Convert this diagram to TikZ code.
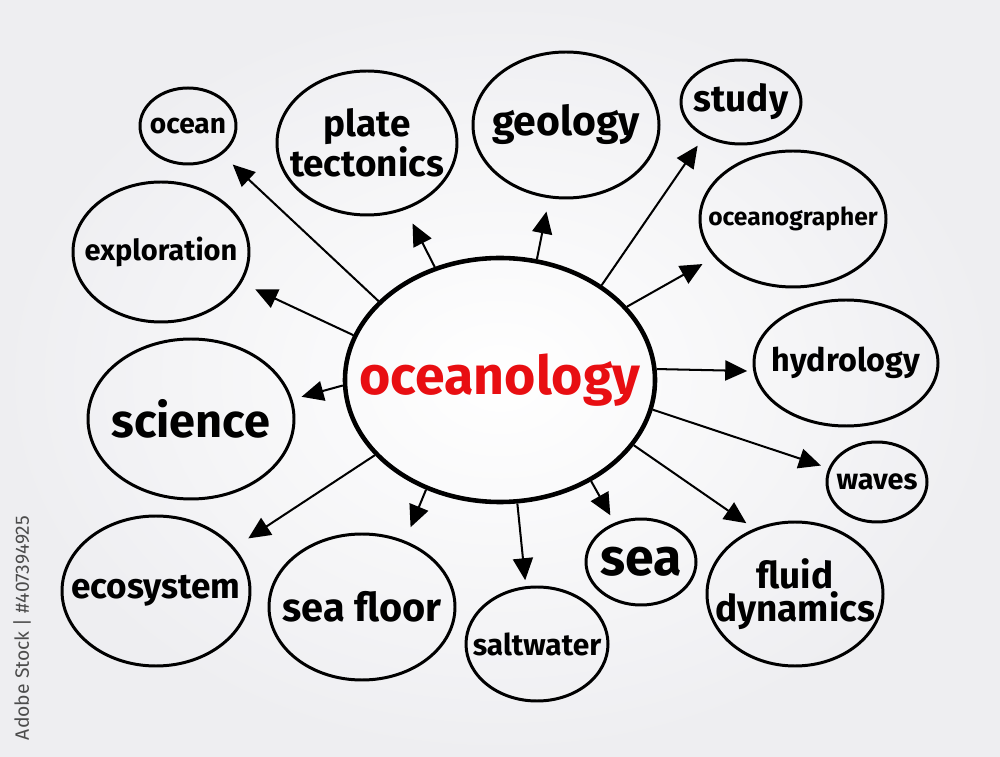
\documentclass[tikz,border=0pt]{standalone}
\usepackage{fontspec}
\setmainfont{Fira Sans}
\usetikzlibrary{shapes.geometric,arrows.meta}
\newcommand{\txtsize}[2]{\fontsize{#1}{#2}\selectfont}

\begin{document}
\begin{tikzpicture}[
  bubble/.style={draw=black, ellipse, line width=1.7pt, inner sep=0pt},
  tag/.style={align=center, inner sep=0pt, text=black},
  link/.style={-{Triangle[length=0.44cm,width=0.4cm]}, line width=1.15pt}
]
  \definecolor{bggray}{RGB}{238,238,241}
  \definecolor{hubred}{RGB}{232,14,18}
  \shade[inner color=white, outer color=bggray] (0,0) rectangle (20,15.12);
  \useasboundingbox (0,0) rectangle (20,15.12);
  % centre
  \node[bubble, line width=2.6pt, minimum width=6.2cm, minimum height=4.88cm,
    label={[tag, text=hubred, font=\bfseries\txtsize{30.5}{32}]center:oceanology}] (hub) at (10.00,7.52) {};
  % top row
  \node[bubble, minimum width=1.92cm, minimum height=1.52cm,
    label={[tag, font=\bfseries\txtsize{16}{17}]center:ocean}] (ocean) at (3.76,12.60) {};
  \node[bubble, minimum width=3.6cm, minimum height=2.88cm,
    label={[tag, font=\bfseries\txtsize{21}{20}]center:plate\\tectonics}] (plate) at (7.34,12.26) {};
  \node[bubble, minimum width=3.72cm, minimum height=2.92cm,
    label={[tag, font=\bfseries\txtsize{23.3}{24}]center:geology}] (geology) at (11.32,12.62) {};
  \node[bubble, minimum width=2.4cm, minimum height=1.68cm,
    label={[tag, font=\bfseries\txtsize{21}{22}]center:study}] (study) at (14.82,13.08) {};
  % sides
  \node[bubble, minimum width=3.72cm, minimum height=2.72cm,
    label={[tag, font=\bfseries\txtsize{14}{15}]center:oceanographer}] (oceanographer) at (15.86,10.74) {};
  \node[bubble, minimum width=3.52cm, minimum height=2.8cm,
    label={[tag, font=\bfseries\txtsize{16.5}{17}]center:exploration}] (exploration) at (3.22,10.08) {};
  \node[bubble, minimum width=3.68cm, minimum height=2.52cm,
    label={[tag, font=\bfseries\txtsize{18.4}{19}]center:hydrology}] (hydrology) at (16.92,7.86) {};
  \node[bubble, minimum width=4.12cm, minimum height=3.2cm,
    label={[tag, font=\bfseries\txtsize{26.7}{27}]center:science}] (science) at (3.82,6.74) {};
  \node[bubble, minimum width=2.0cm, minimum height=1.6cm,
    label={[tag, font=\bfseries\txtsize{16.4}{17}]center:waves}] (waves) at (17.54,5.48) {};
  % bottom row
  \node[bubble, minimum width=3.76cm, minimum height=3.0cm,
    label={[tag, font=\bfseries\txtsize{20}{21}]center:ecosystem}] (ecosystem) at (3.12,3.30) {};
  \node[bubble, minimum width=3.72cm, minimum height=2.92cm,
    label={[tag, font=\bfseries\txtsize{22.6}{23}]center:sea floor}] (seafloor) at (7.24,2.98) {};
  \node[bubble, minimum width=2.84cm, minimum height=2.28cm,
    label={[tag, font=\bfseries\txtsize{17}{18}]center:saltwater}] (saltwater) at (10.74,2.24) {};
  \node[bubble, minimum width=2.2cm, minimum height=1.72cm,
    label={[tag, font=\bfseries\txtsize{29.5}{30}]center:sea}] (sea) at (12.82,3.88) {};
  \node[bubble, minimum width=3.52cm, minimum height=2.88cm,
    label={[tag, font=\bfseries\txtsize{21}{19}]center:fluid\\dynamics}] (fluid) at (15.90,3.24) {};
  % arrows
  \draw[link, shorten >=0.29cm] (hub.147.6) -- (ocean.-40);
  \draw[link, shorten >=0.31cm] (hub.120.6) -- (plate.-60.3);
  \draw[link, shorten >=0.27cm] (hub.73) -- (geology.-103.9);
  \draw[link, shorten >=0.22cm] (hub.43.3) -- (study.-137);
  \draw[link, shorten >=0.27cm] (hub.30) -- (oceanographer.-154.5);
  \draw[link, shorten >=0.30cm] (hub.163) -- (exploration.-21.2);
  \draw[link, shorten >=0.12cm] (hub.4) -- (hydrology.-175.2);
  \draw[link, shorten >=0.19cm] (hub.182) -- (science.11.4);
  \draw[link, shorten >=0.16cm] (hub.-11.3) -- (waves.164.7);
  \draw[link, shorten >=0.33cm] (hub.-149) -- (ecosystem.29.3);
  \draw[link, shorten >=0.29cm] (hub.-124) -- (seafloor.57);
  \draw[link, shorten >=0.12cm] (hub.-82) -- (saltwater.101.8);
  \draw[link, shorten >=0.17cm] (hub.-48.8) -- (sea.124.6);
  \draw[link, shorten >=0.19cm] (hub.-26.2) -- (fluid.122.6);
  % stock label
  \node[rotate=90, text=black!70, font=\txtsize{11}{12}] (stock) at (0.44,2.56) {Adobe Stock | \#407394925};
\end{tikzpicture}
\end{document}
